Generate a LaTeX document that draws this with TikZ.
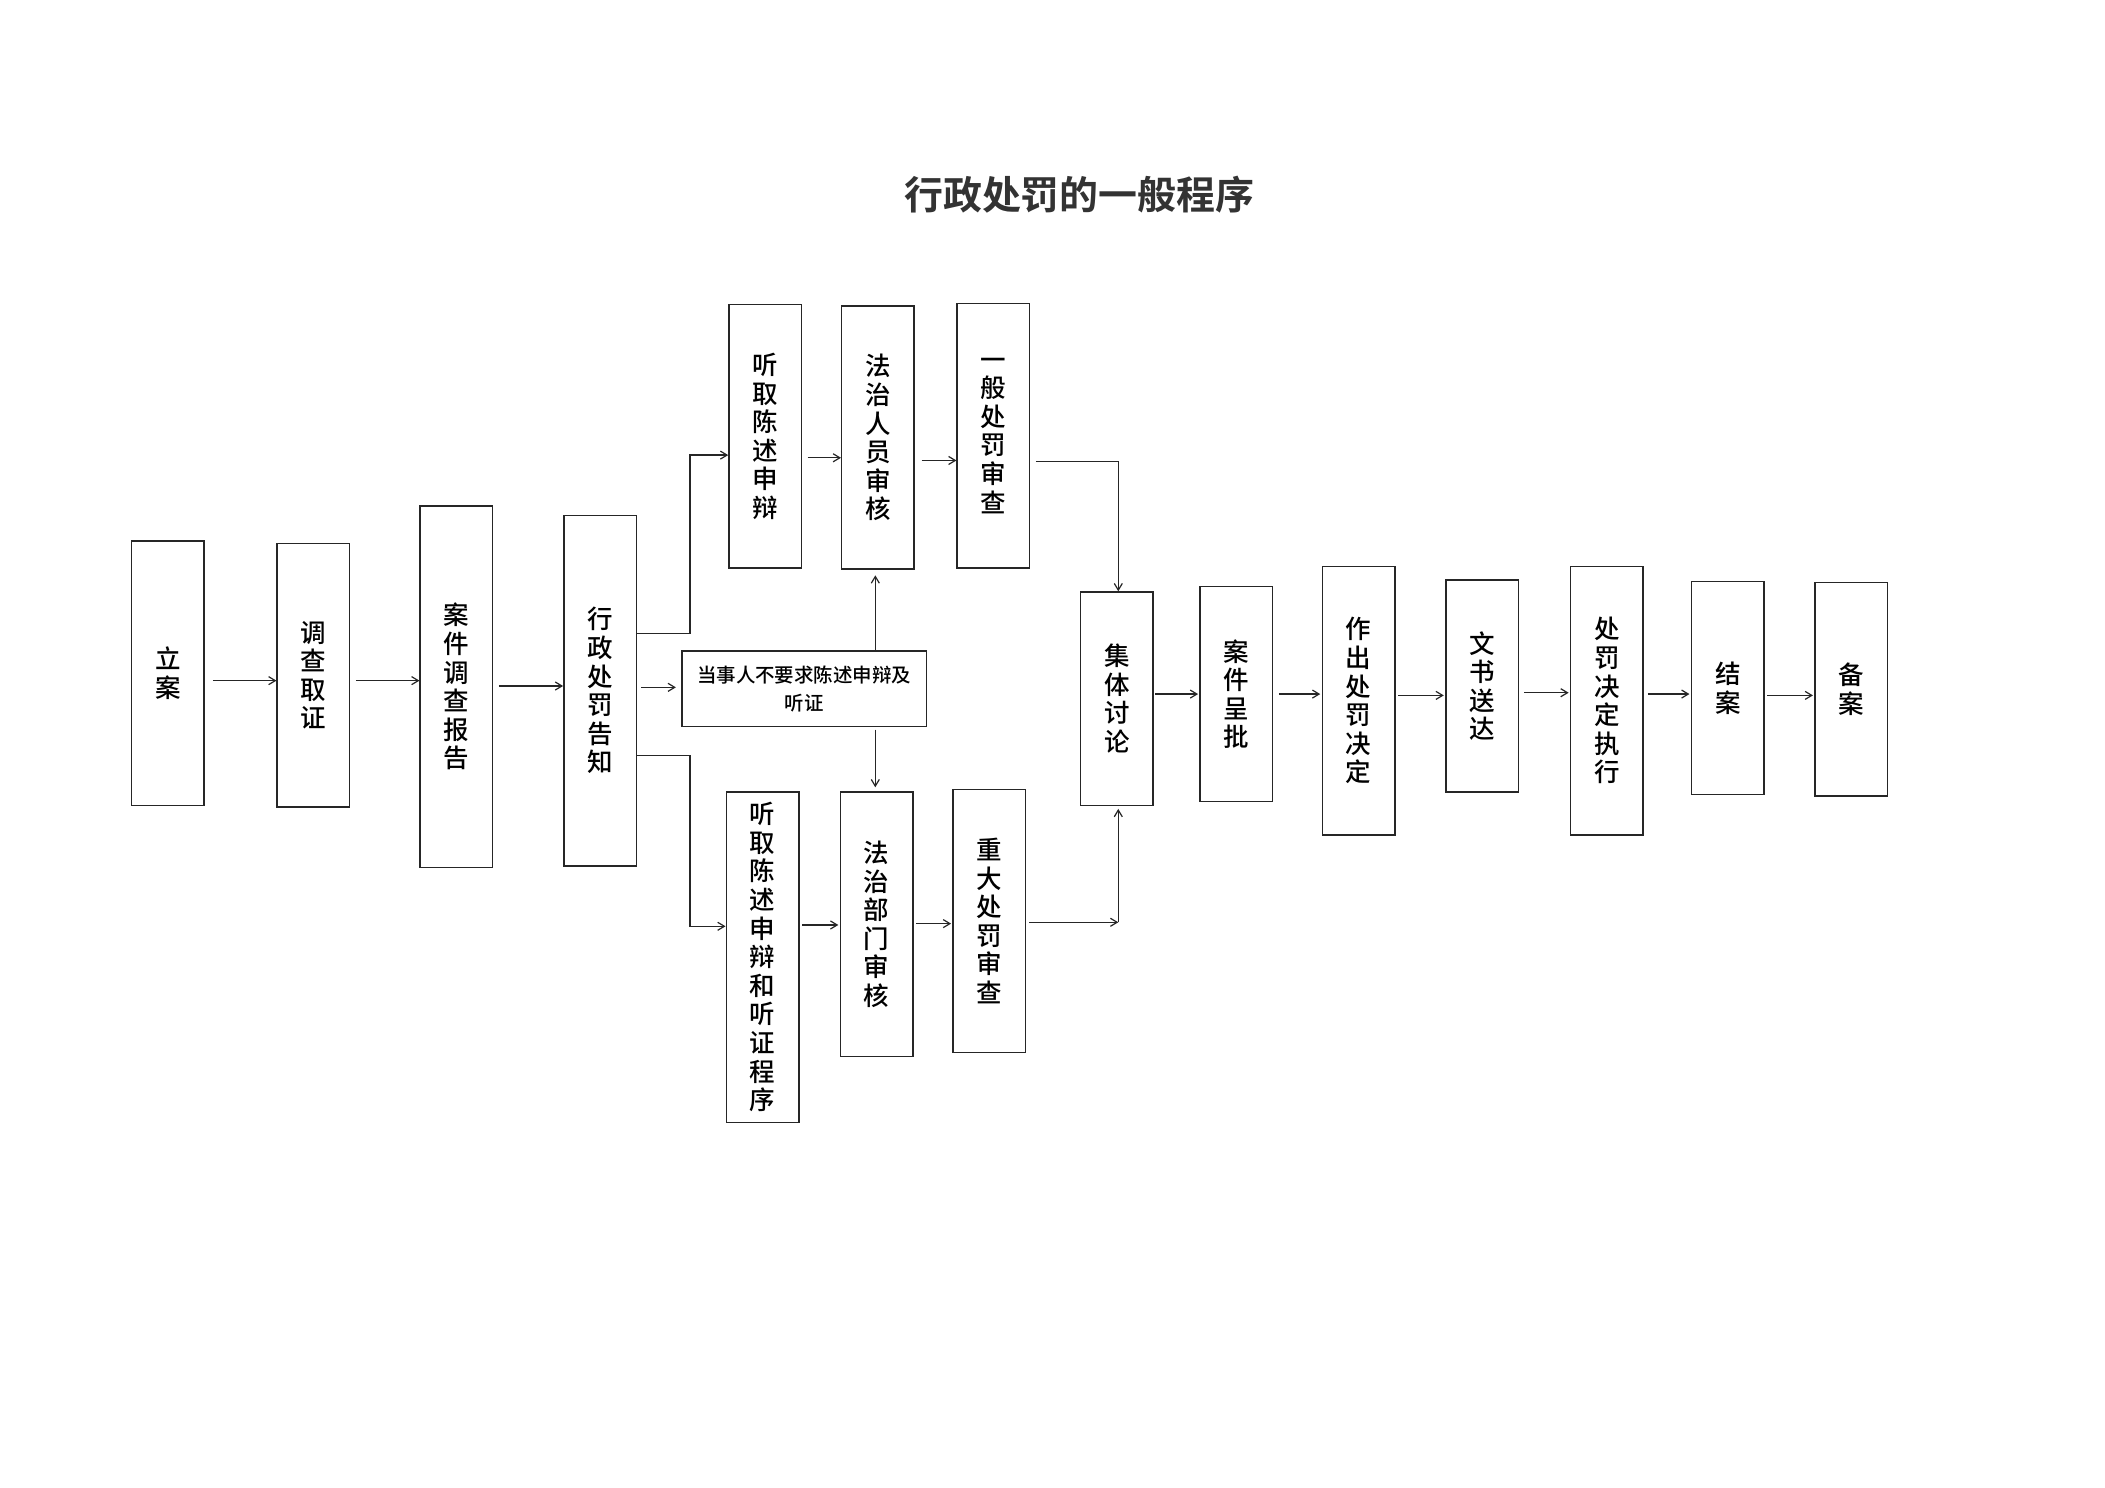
\documentclass[tikz,border=0pt]{standalone}
\usepackage{fontspec}
\usetikzlibrary{calc,arrows.meta}
\newfontfamily\cjk{Noto Sans CJK SC Medium}
\newfontfamily\titlefont{Noto Sans CJK SC Bold}
\tikzset{
  box/.style={draw=black!85, line width=1.1pt, minimum width=54pt, inner sep=0pt, align=center,
    font=\cjk\fontsize{19}{21.3}\selectfont},
  ln/.style={draw=black!85, line width=0.9pt},
  arr/.style={ln, -{Straight Barb[length=5pt,width=6pt]}},
}
\begin{document}
\begin{tikzpicture}[x=1pt,y=-1pt]
\useasboundingbox (0,0) rectangle (1568,1108);
\fill[white] (0,0) rectangle (1568,1108);
\node[font=\titlefont\fontsize{29}{32}\selectfont, text=black!80] (title) at (804,145) {行政处罚的一般程序};

\node[box, minimum height=197pt] (lian) at (125,501.5) {立\\案};
\node[box, minimum height=196pt] (dcqz) at (233.5,503) {调\\查\\取\\证};
\node[box, minimum height=269pt] (ajdc) at (340,511.5) {案\\件\\调\\查\\报\\告};
\node[box, minimum height=261pt] (xzcf) at (447,514.5) {行\\政\\处\\罚\\告\\知};

\node[box, minimum height=196pt] (tq1) at (570,325) {听\\取\\陈\\述\\申\\辩};
\node[box, minimum height=196pt] (fzry) at (654,326) {法\\治\\人\\员\\审\\核};
\node[box, minimum height=197pt] (ybcf) at (740,324.5) {一\\般\\处\\罚\\审\\查};

\node[box, minimum width=182pt, minimum height=56pt, font=\cjk\fontsize{14.5}{21}\selectfont] (dsr) at (599,513) {当事人不要求陈述申辩及\\听证};

\node[box, minimum height=246pt] (tq2) at (568,713) {听\\取\\陈\\述\\申\\辩\\和\\听\\证\\程\\序};
\node[box, minimum height=197pt] (fzbm) at (653,688.5) {法\\治\\部\\门\\审\\核};
\node[box, minimum height=196pt] (zdcf) at (737,686) {重\\大\\处\\罚\\审\\查};

\node[box, minimum height=159pt] (jttl) at (832,520.5) {集\\体\\讨\\论};
\node[box, minimum height=160pt] (ajcp) at (921,517) {案\\件\\呈\\批};
\node[box, minimum height=200pt] (zccf) at (1012,522) {作\\出\\处\\罚\\决\\定};
\node[box, minimum height=158pt] (wssd) at (1104,511) {文\\书\\送\\达};
\node[box, minimum height=200pt] (cfzx) at (1197,522) {处\\罚\\决\\定\\执\\行};
\node[box, minimum height=159pt] (ja) at (1287,512.5) {结\\案};
\node[box, minimum height=159pt] (ba) at (1379,513.5) {备\\案};

% main chain
\draw[arr] ($(lian.east|-0,507)+(6,0)$) -- (dcqz.west|-0,507);
\draw[arr] ($(dcqz.east|-0,507)+(4,0)$) -- (ajdc.west|-0,507);
\draw[arr] ($(ajdc.east|-0,511)+(4,0)$) -- (xzcf.west|-0,511);
\draw[arr] ($(xzcf.east|-0,512)+(3,0)$) -- ($(dsr.west|-0,512)+(-4,0)$);

% branches
\coordinate (ub) at (514,472);
\coordinate (lb) at (514,563);
\draw[arr] (xzcf.east|-ub) -- (ub) |- (tq1.west|-0,339);
\draw[arr] (xzcf.east|-lb) -- (lb) |- (tq2.west|-0,690);

% upper row
\draw[arr] ($(tq1.east|-0,341)+(4,0)$) -- (fzry.west|-0,341);
\draw[arr] ($(fzry.east|-0,343)+(5,0)$) -- (ybcf.west|-0,343);
\coordinate (uc) at (833,344);
\draw[arr] ($(ybcf.east|-uc)+(4,0)$) -- (uc) -- (jttl.north-|uc);

% middle box
\draw[arr] (dsr.north-|652,0) -- ($(fzry.south-|652,0)+(0,4)$);
\draw[arr] ($(dsr.south-|652,0)+(0,2)$) -- ($(fzbm.north-|652,0)+(0,-3)$);

% lower row
\draw[arr] ($(tq2.east|-0,689)+(2,0)$) -- ($(fzbm.west|-0,689)+(-1,0)$);
\draw[arr] ($(fzbm.east|-0,688)+(2,0)$) -- ($(zdcf.west|-0,688)+(-1,0)$);
\coordinate (lc) at (833,687);
\draw[arr] ($(zdcf.east|-lc)+(2,0)$) -- (lc);
\draw[arr] (lc) -- ($(jttl.south-|lc)+(0,2)$);

% right chain
\draw[arr] ($(jttl.east|-0,517)+(1,0)$) -- ($(ajcp.west|-0,517)+(-1,0)$);
\draw[arr] ($(ajcp.east|-0,517)+(4,0)$) -- ($(zccf.west|-0,517)+(-1,0)$);
\draw[arr] ($(zccf.east|-0,518)+(2,0)$) -- ($(wssd.west|-0,518)+(-1,0)$);
\draw[arr] ($(wssd.east|-0,516)+(4,0)$) -- ($(cfzx.west|-0,516)+(-1,0)$);
\draw[arr] ($(cfzx.east|-0,517)+(3,0)$) -- ($(ja.west|-0,517)+(-1,0)$);
\draw[arr] ($(ja.east|-0,518)+(2,0)$) -- ($(ba.west|-0,518)+(-1,0)$);
\end{tikzpicture}
\end{document}
